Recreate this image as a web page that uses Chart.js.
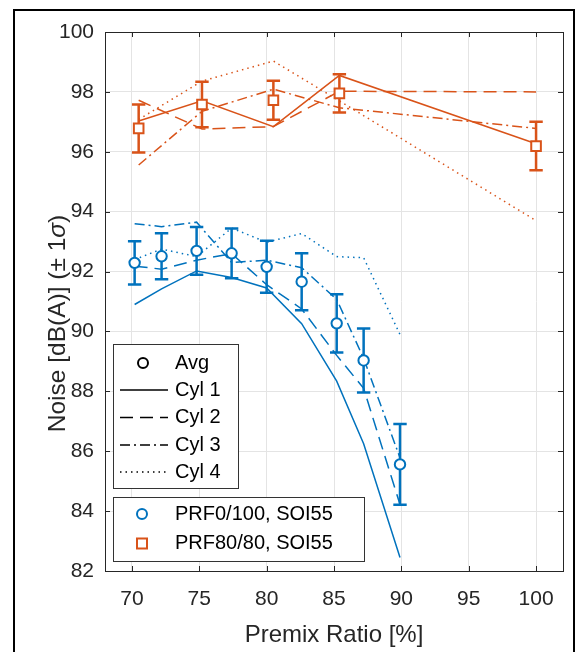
<!DOCTYPE html>
<html><head><meta charset="utf-8">
<script src="https://cdn.jsdelivr.net/npm/chart.js@4.4.0/dist/chart.umd.min.js"></script>
<style>
html,body{margin:0;padding:0;background:#fff;}
#wrap{position:relative;width:578px;height:652px;overflow:hidden;background:#fff;}
#frame{position:absolute;left:13px;top:9px;width:558px;height:700px;border:2px solid #000;pointer-events:none;}
canvas{position:absolute;left:0;top:0;}
</style></head><body>
<div id="wrap"><canvas id="c" width="578" height="652"></canvas><div id="frame"></div></div>
<script>
// ---- data ----
const xTicks = [70, 75, 80, 85, 90, 95, 100];
const yTicks = [82, 84, 86, 88, 90, 92, 94, 96, 98, 100];
const xTitle = 'Premix Ratio [%]';
const yTitleParts = ['Noise [dB(A)] (\u00B1 1', '\u03C3', ')'];
const legendStyles = ['Avg', 'Cyl 1', 'Cyl 2', 'Cyl 3', 'Cyl 4'];
const legendSeries = ['PRF0/100, SOI55', 'PRF80/80, SOI55'];

const prf0X    = [70.2, 72.2, 74.8, 77.4, 80.0, 82.6, 85.2, 87.2, 89.9];
const prf0Avg  = [92.29, 92.51, 92.69, 92.61, 92.16, 91.66, 90.27, 89.03, 85.56];
const prf0Std  = [0.72, 0.77, 0.80, 0.83, 0.87, 0.95, 0.97, 1.07, 1.35];
const prf0Cyl1 = [90.90, 91.42, 92.02, 91.80, 91.45, 90.26, 88.34, 86.25, 82.45];
const prf0Cyl2 = [92.18, 92.08, 92.38, 92.60, 91.56, 90.75, 89.20, 88.10, 84.22];
const prf0Cyl3 = [93.60, 93.50, 93.65, 92.30, 92.38, 92.13, 91.07, 89.10, 85.78];
const prf0Cyl4 = [92.40, 92.75, 92.50, 93.45, 92.98, 93.27, 92.50, 92.46, 89.90];

const prf80X    = [70.5, 75.2, 80.5, 85.4, 100.0];
const prf80Avg  = [96.78, 97.58, 97.72, 97.95, 96.19];
const prf80Std  = [0.80, 0.76, 0.65, 0.64, 0.81];
const prf80Cyl1 = [97.03, 97.70, 96.84, 98.55, 96.27];
const prf80Cyl2 = [97.72, 96.76, 96.84, 98.02, 98.00];
const prf80Cyl3 = [95.56, 97.35, 98.09, 97.47, 96.78];
const prf80Cyl4 = [97.08, 98.36, 99.03, 97.70, 93.70];

// ---- styles ----
const BLUE = '#0072BD', ORANGE = '#D95319', AX = '#262626';
const FONT = '"Liberation Sans", Arial, Helvetica, sans-serif';
const DASHES = [[], [13, 7], [10, 4, 2, 4], [1.5, 4]];

const pts = (xs, ys) => xs.map((x, i) => ({x, y: ys[i]}));
const cyl = (xs, ys, color, k) => ({
  type: 'line', data: pts(xs, ys), borderColor: color, borderWidth: 1.5,
  borderDash: DASHES[k], pointRadius: 0, fill: false, tension: 0, borderCapStyle: 'butt'
});

const datasets = [
  {type: 'line', showLine: false, data: pts(prf0X, prf0Avg), err: prf0Std, borderColor: BLUE,
   pointStyle: 'circle', pointRadius: 5.2, pointBorderWidth: 2, pointBackgroundColor: '#fff', pointBorderColor: BLUE},
  {type: 'line', showLine: false, data: pts(prf80X, prf80Avg), err: prf80Std, borderColor: ORANGE,
   pointStyle: 'rect', pointRadius: 6.8, pointBorderWidth: 2, pointBackgroundColor: '#fff', pointBorderColor: ORANGE},
  cyl(prf0X, prf0Cyl1, BLUE, 0), cyl(prf0X, prf0Cyl2, BLUE, 1), cyl(prf0X, prf0Cyl3, BLUE, 2), cyl(prf0X, prf0Cyl4, BLUE, 3),
  cyl(prf80X, prf80Cyl1, ORANGE, 0), cyl(prf80X, prf80Cyl2, ORANGE, 1), cyl(prf80X, prf80Cyl3, ORANGE, 2), cyl(prf80X, prf80Cyl4, ORANGE, 3)
];

const errPlugin = {
  id: 'err',
  beforeDatasetDraw(chart, args) {
    const d = chart.data.datasets[args.index];
    if (!d.err) return;
    const ctx = chart.ctx, xs = chart.scales.x, ys = chart.scales.y;
    ctx.save();
    ctx.strokeStyle = d.borderColor; ctx.lineWidth = 2.5; ctx.lineCap = 'butt';
    d.data.forEach((p, i) => {
      const px = xs.getPixelForValue(p.x);
      const t = ys.getPixelForValue(p.y + d.err[i]);
      const b = ys.getPixelForValue(p.y - d.err[i]);
      ctx.beginPath();
      ctx.moveTo(px, t); ctx.lineTo(px, b);
      ctx.moveTo(px - 6.7, t); ctx.lineTo(px + 6.7, t);
      ctx.moveTo(px - 6.7, b); ctx.lineTo(px + 6.7, b);
      ctx.stroke();
    });
    ctx.restore();
  }
};

const boxPlugin = {
  id: 'box',
  afterDatasetsDraw(chart) {
    const ctx = chart.ctx, a = chart.chartArea, xs = chart.scales.x, ys = chart.scales.y;
    ctx.save();
    ctx.strokeStyle = AX; ctx.lineWidth = 1;
    ctx.strokeRect(Math.round(a.left) + 0.5, Math.round(a.top) + 0.5, Math.round(a.right - a.left), Math.round(a.bottom - a.top));
    ctx.beginPath();
    xTicks.forEach(v => {
      const px = Math.round(xs.getPixelForValue(v)) + 0.5;
      ctx.moveTo(px, a.bottom); ctx.lineTo(px, a.bottom - 5);
      ctx.moveTo(px, a.top); ctx.lineTo(px, a.top + 5);
    });
    yTicks.forEach(v => {
      const py = Math.round(ys.getPixelForValue(v)) + 0.5;
      ctx.moveTo(a.left, py); ctx.lineTo(a.left + 5, py);
      ctx.moveTo(a.right, py); ctx.lineTo(a.right - 5, py);
    });
    ctx.stroke();
    ctx.restore();
  },
  afterDraw(chart) {
    const ctx = chart.ctx, a = chart.chartArea;
    ctx.save();
    // y axis title with italic sigma
    ctx.fillStyle = AX;
    const fN = '24.5px ' + FONT, fI = 'italic 24.5px ' + FONT;
    ctx.font = fN; const w0 = ctx.measureText(yTitleParts[0]).width, w2 = ctx.measureText(yTitleParts[2]).width;
    ctx.font = fI; const w1 = ctx.measureText(yTitleParts[1]).width;
    const tot = w0 + w1 + w2;
    ctx.translate(58, (a.top + a.bottom) / 2 + 22);
    ctx.rotate(-Math.PI / 2);
    ctx.textBaseline = 'middle'; ctx.textAlign = 'left';
    let x = -tot / 2;
    ctx.font = fN; ctx.fillText(yTitleParts[0], x, 0); x += w0;
    ctx.font = fI; ctx.fillText(yTitleParts[1], x, 0); x += w1;
    ctx.font = fN; ctx.fillText(yTitleParts[2], x, 0);
    ctx.restore();

    // legends
    ctx.save();
    ctx.lineWidth = 1; ctx.strokeStyle = '#333';
    ctx.fillStyle = '#fff';
    ctx.fillRect(113, 344, 125, 144); ctx.strokeRect(113.5, 344.5, 125, 144);
    ctx.fillRect(113, 497, 251, 64); ctx.strokeRect(113.5, 497.5, 251, 64);
    ctx.font = '20px ' + FONT; ctx.textBaseline = 'middle'; ctx.textAlign = 'left';
    const rows = [363, 390, 417.5, 445, 472];
    ctx.strokeStyle = '#000'; ctx.lineWidth = 2;
    ctx.beginPath(); ctx.arc(143, rows[0], 5, 0, Math.PI * 2); ctx.stroke();
    ctx.lineWidth = 1.5;
    for (let k = 0; k < 4; k++) {
      ctx.setLineDash(DASHES[k]);
      ctx.beginPath(); ctx.moveTo(120, rows[k + 1]); ctx.lineTo(168, rows[k + 1]); ctx.stroke();
    }
    ctx.setLineDash([]);
    ctx.fillStyle = '#000';
    legendStyles.forEach((t, i) => ctx.fillText(t, 175, rows[i]));
    ctx.lineWidth = 2;
    ctx.strokeStyle = BLUE; ctx.beginPath(); ctx.arc(142, 514, 5, 0, Math.PI * 2); ctx.stroke();
    ctx.strokeStyle = ORANGE; ctx.strokeRect(137, 538.5, 10, 10);
    ctx.fillStyle = '#000';
    ctx.fillText(legendSeries[0], 175, 514);
    ctx.fillText(legendSeries[1], 175, 543.5);
    ctx.restore();
  }
};

new Chart(document.getElementById('c'), {
  type: 'line',
  data: {datasets},
  options: {
    responsive: false, animation: false, events: [],
    layout: {padding: {left: 0, right: 15, top: 32, bottom: 0}},
    plugins: {legend: {display: false}, tooltip: {enabled: false}},
    scales: {
      x: {
        type: 'linear', min: 68, max: 102,
        afterBuildTicks: s => { s.ticks = xTicks.map(v => ({value: v})); },
        afterFit: s => { s.height = 81; },
        grid: {color: '#e4e4e4', drawTicks: false, lineWidth: 1},
        border: {display: false},
        ticks: {font: {family: FONT, size: 21}, color: AX, padding: 16, maxRotation: 0},
        title: {display: true, text: xTitle, font: {family: FONT, size: 24}, color: AX, padding: {top: 0, bottom: 2}}
      },
      y: {
        type: 'linear', min: 82, max: 100,
        afterBuildTicks: s => { s.ticks = yTicks.map(v => ({value: v})); },
        afterFit: s => { s.width = 105; },
        grid: {color: '#e4e4e4', drawTicks: false, lineWidth: 1},
        border: {display: false},
        ticks: {font: {family: FONT, size: 21}, color: AX, padding: 11}
      }
    }
  },
  plugins: [errPlugin, boxPlugin]
});
</script>
</body></html>
